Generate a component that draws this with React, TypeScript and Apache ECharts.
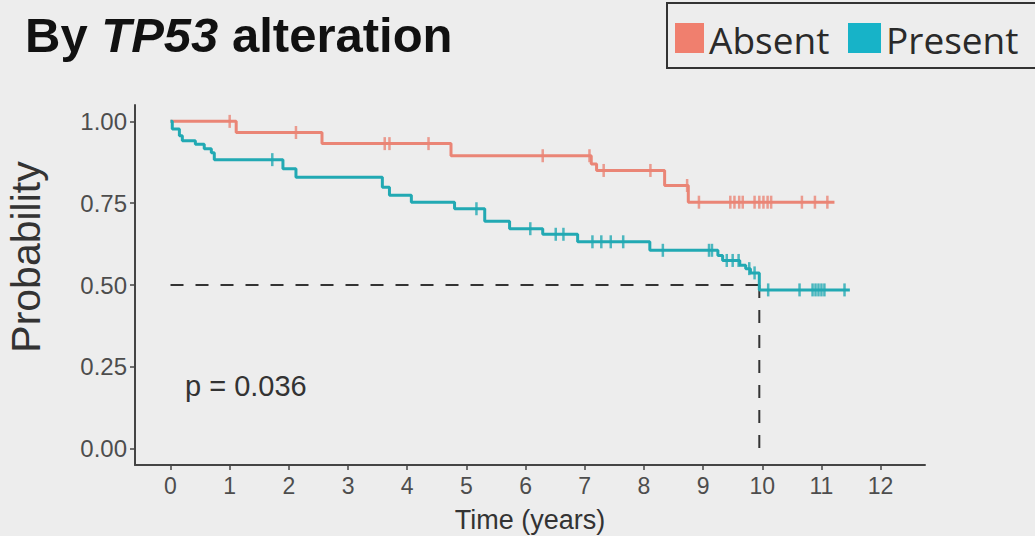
import React, { useEffect, useRef } from "react";
import * as echarts from "echarts";

const xTicks = [0, 1, 2, 3, 4, 5, 6, 7, 8, 9, 10, 11, 12];
const yTicks = [0, 0.25, 0.5, 0.75, 1];

const groups = ["Absent", "Present"];

const absentEventTimes = [0, 1.11, 2.56, 4.74, 7.11, 7.2, 8.35, 8.75];
const absentSurvival = [1, 0.966, 0.932, 0.895, 0.87, 0.85, 0.804, 0.753];
const absentCensorTimes = [
  1.0, 2.12, 3.62, 3.7, 4.36, 6.29, 7.08, 7.32, 8.11, 8.73, 8.93, 9.46, 9.53,
  9.61, 9.67, 9.87, 9.95, 10.02, 10.09, 10.15, 10.67, 10.89, 11.1,
];
const absentLastTime = 11.22;

const presentEventTimes = [
  0, 0.03, 0.15, 0.2, 0.42, 0.57, 0.69, 0.74, 1.9, 2.12, 3.58, 3.7, 4.07, 4.8,
  5.31, 5.73, 6.29, 6.88, 8.1, 9.25, 9.33, 9.62, 9.72, 9.8, 9.95,
];
const presentSurvival = [
  1, 0.977, 0.956, 0.941, 0.93, 0.916, 0.904, 0.883, 0.855, 0.829, 0.799, 0.774,
  0.753, 0.733, 0.695, 0.672, 0.655, 0.632, 0.606, 0.59, 0.575, 0.56, 0.55,
  0.537, 0.485,
];
const presentCensorTimes = [
  1.72, 5.17, 6.08, 6.51, 6.64, 7.13, 7.28, 7.44, 7.65, 8.32, 9.1, 9.15, 9.4,
  9.5, 9.6, 9.78, 9.87, 10.1, 10.63, 10.85, 10.9, 10.95, 11.0, 11.05, 11.39,
];
const presentLastTime = 11.48;

const medianTime = 9.95;
const medianProb = 0.5;
const pValueText = "p = 0.036";

const absentColor = "#EA8576";
const presentColor = "#22A9B3";

function survAt(times: number[], surv: number[], t: number) {
  let s = surv[0];
  for (let i = 0; i < times.length; i++) if (times[i] <= t) s = surv[i];
  return s;
}

function curve(times: number[], surv: number[], last: number) {
  const d = times.map((t, i) => [t, surv[i]]);
  d.push([last, surv[surv.length - 1]]);
  return d;
}

function censors(times: number[], surv: number[], cens: number[]) {
  return cens.map((t) => [t, survAt(times, surv, t)]);
}

const AXIS_FONT = "'Liberation Sans', Arial, Helvetica, sans-serif";
const LEGEND_FONT = "'Open Sans', 'Noto Sans', sans-serif";

export default function App() {
  const ref = useRef<HTMLDivElement>(null);
  useEffect(() => {
    if (!ref.current) return;
    const chart = echarts.init(ref.current, undefined, { renderer: "svg" });
    const option: any = {
      animation: false,
      backgroundColor: "#ededed",
      grid: { left: 135, top: 105, width: 790, height: 360 },
      xAxis: {
        type: "value",
        min: -0.6,
        max: 12.75,
        axisLine: {
          show: true,
          onZero: false,
          lineStyle: { color: "#444", width: 2 },
        },
        axisTick: {
          show: true,
          length: 5,
          customValues: xTicks,
          lineStyle: { color: "#444", width: 1.5 },
        },
        axisLabel: {
          customValues: xTicks,
          color: "#4d4d4d",
          fontSize: 23,
          fontFamily: AXIS_FONT,
          margin: 9,
        },
        splitLine: { show: false },
      },
      yAxis: {
        type: "value",
        min: -0.05,
        max: 1.05,
        axisLine: {
          show: true,
          onZero: false,
          lineStyle: { color: "#444", width: 2 },
        },
        axisTick: {
          show: true,
          length: 5,
          customValues: yTicks,
          lineStyle: { color: "#444", width: 1.5 },
        },
        axisLabel: {
          customValues: yTicks,
          color: "#4d4d4d",
          fontSize: 24,
          fontFamily: AXIS_FONT,
          margin: 8,
          formatter: (v: number) => v.toFixed(2),
        },
        splitLine: { show: false },
      },
      series: [
        {
          name: "median-h",
          type: "line",
          data: [
            [0, medianProb],
            [medianTime, medianProb],
          ],
          showSymbol: false,
          lineStyle: { color: "#333", width: 2, type: [13, 12] },
          z: 1,
        },
        {
          name: "median-v",
          type: "line",
          data: [
            [medianTime, medianProb],
            [medianTime, 0],
          ],
          showSymbol: false,
          lineStyle: { color: "#333", width: 2, type: [13, 12] },
          z: 1,
        },
        {
          name: groups[0],
          type: "line",
          step: "end",
          data: curve(absentEventTimes, absentSurvival, absentLastTime),
          showSymbol: false,
          lineStyle: { color: absentColor, width: 3 },
          z: 2,
        },
        {
          name: groups[0] + " censored",
          type: "scatter",
          data: censors(absentEventTimes, absentSurvival, absentCensorTimes),
          symbol: "rect",
          symbolSize: [2.5, 13],
          itemStyle: { color: absentColor },
          z: 3,
        },
        {
          name: groups[1],
          type: "line",
          step: "end",
          data: curve(presentEventTimes, presentSurvival, presentLastTime),
          showSymbol: false,
          lineStyle: { color: presentColor, width: 3 },
          z: 2,
        },
        {
          name: groups[1] + " censored",
          type: "scatter",
          data: censors(presentEventTimes, presentSurvival, presentCensorTimes),
          symbol: "rect",
          symbolSize: [2.5, 13],
          itemStyle: { color: presentColor },
          z: 3,
        },
      ],
      graphic: [
        {
          type: "text",
          left: 25,
          top: 10,
          style: {
            text: "{b|By }{i|TP53}{b| alteration}",
            rich: {
              b: {
                fontSize: 49,
                fontWeight: "bold",
                fontFamily: AXIS_FONT,
                fill: "#111",
              },
              i: {
                fontSize: 49,
                fontWeight: "bold",
                fontStyle: "italic",
                fontFamily: AXIS_FONT,
                fill: "#111",
              },
            },
          },
        },
        {
          type: "rect",
          shape: { x: 667, y: 3, width: 380, height: 65 },
          style: { fill: "none", stroke: "#333", lineWidth: 2 },
        },
        {
          type: "rect",
          shape: { x: 675, y: 23, width: 29, height: 30 },
          style: { fill: "#F07F6E" },
        },
        {
          type: "text",
          x: 709,
          y: 39,
          style: {
            text: groups[0],
            fontSize: 37,
            fontFamily: LEGEND_FONT,
            fill: "#2a2a2a",
            verticalAlign: "middle",
            align: "left",
          },
        },
        {
          type: "rect",
          shape: { x: 848, y: 23, width: 33, height: 30 },
          style: { fill: "#17B3C8" },
        },
        {
          type: "text",
          x: 886,
          y: 39,
          style: {
            text: groups[1],
            fontSize: 37,
            fontFamily: LEGEND_FONT,
            fill: "#2a2a2a",
            verticalAlign: "middle",
            align: "left",
          },
        },
        {
          type: "text",
          x: 26,
          y: 257,
          rotation: Math.PI / 2,
          style: {
            text: "Probability",
            fontSize: 41,
            fontFamily: AXIS_FONT,
            fill: "#333",
            align: "center",
            verticalAlign: "middle",
          },
        },
        {
          type: "text",
          x: 530,
          y: 520,
          style: {
            text: "Time (years)",
            fontSize: 27,
            fontFamily: AXIS_FONT,
            fill: "#333",
            align: "center",
            verticalAlign: "middle",
          },
        },
        {
          type: "text",
          x: 185,
          y: 386,
          style: {
            text: pValueText,
            fontSize: 29,
            fontFamily: AXIS_FONT,
            fill: "#333",
            align: "left",
            verticalAlign: "middle",
          },
        },
      ],
    };
    chart.setOption(option);
    return () => chart.dispose();
  }, []);
  return (
    <div
      ref={ref}
      style={{ position: "absolute", left: 0, top: 0, width: 1035, height: 536 }}
    />
  );
}
